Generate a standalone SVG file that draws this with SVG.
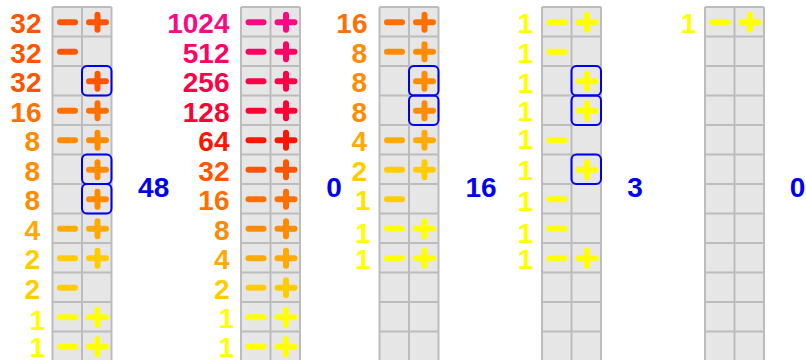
<svg xmlns="http://www.w3.org/2000/svg" xmlns:xlink="http://www.w3.org/1999/xlink" width="806" height="360" viewBox="0 0 806 360">
<style>
text{font-family:"Liberation Sans",Arial,sans-serif;font-weight:bold;font-size:28px}
.n{text-anchor:end}
.s{text-anchor:middle;fill:#0000f0}
.box{fill:none;stroke:#0000f0;stroke-width:2}
.c1024{fill:#fa0a82;color:#fa0a82}
.c512{fill:#ff0064;color:#ff0064}
.c256{fill:#ff0048;color:#ff0048}
.c128{fill:#ff0032;color:#ff0032}
.c64{fill:#ff1400;color:#ff1400}
.c32{fill:#ff5500;color:#ff5500}
.c16{fill:#ff7000;color:#ff7000}
.c8{fill:#ff8c00;color:#ff8c00}
.c4{fill:#ffaa00;color:#ffaa00}
.c2{fill:#ffcc00;color:#ffcc00}
.c1{fill:#ffff00;color:#ffff00}
.c1b{fill:#ffe400;color:#ffe400}
</style>
<defs>
<g id="grid">
<rect x="0" y="7" width="59" height="360" fill="#e6e6e6"/>
<path d="M0,7V367M29.5,7V367M59,7V367M0,7H59M0,36.5H59M0,66H59M0,95.5H59M0,125H59M0,154.5H59M0,184H59M0,213.5H59M0,243H59M0,272.5H59M0,302H59M0,331.5H59" stroke="#bcbcbc" stroke-width="2" fill="none"/>
</g>
<path id="m" d="M-7.5,0H7.5" stroke="currentColor" stroke-width="6" stroke-linecap="round" fill="none"/>
<path id="p" d="M-8.5,0H8.5M0,-7.5V7.5" stroke="currentColor" stroke-width="6" stroke-linecap="round" fill="none"/>
</defs>

<!-- Column 1 -->
<g id="col1">
<use xlink:href="#grid" x="52.5" y="0"/>
<g id="c1r1" class="c32"><text class="n" x="41.5" y="33.3">32</text><use xlink:href="#m" x="67.5" y="22.2"/><use xlink:href="#p" x="97.5" y="22.2"/></g>
<g id="c1r2" class="c32"><text class="n" x="41.5" y="62.8">32</text><use xlink:href="#m" x="67.5" y="51.7"/></g>
<g id="c1r3" class="c32"><text class="n" x="41.5" y="92.3">32</text><use xlink:href="#p" x="97.5" y="81.2"/><rect class="box" x="82" y="66" width="29.5" height="29.5" rx="5"/></g>
<g id="c1r4" class="c16"><text class="n" x="41.5" y="121.8">16</text><use xlink:href="#m" x="67.5" y="110.7"/><use xlink:href="#p" x="97.5" y="110.7"/></g>
<g id="c1r5" class="c8"><text class="n" x="40" y="151.3">8</text><use xlink:href="#m" x="67.5" y="140.2"/><use xlink:href="#p" x="97.5" y="140.2"/></g>
<g id="c1r6" class="c8"><text class="n" x="40" y="180.8">8</text><use xlink:href="#p" x="97.5" y="169.7"/><rect class="box" x="82" y="154.5" width="29.5" height="29.5" rx="5"/></g>
<g id="c1r7" class="c8"><text class="n" x="40" y="210.3">8</text><use xlink:href="#p" x="97.5" y="199.2"/><rect class="box" x="82" y="184" width="29.5" height="29.5" rx="5"/></g>
<g id="c1r8" class="c4"><text class="n" x="40" y="239.8">4</text><use xlink:href="#m" x="67.5" y="228.7"/><use xlink:href="#p" x="97.5" y="228.7"/></g>
<g id="c1r9" class="c2"><text class="n" x="40" y="269.3">2</text><use xlink:href="#m" x="67.5" y="258.2"/><use xlink:href="#p" x="97.5" y="258.2"/></g>
<g id="c1r10" class="c2"><text class="n" x="40" y="298.8">2</text><use xlink:href="#m" x="67.5" y="287.7"/></g>
<g id="c1r11" class="c1"><text class="n" x="45" y="330">1</text><use xlink:href="#m" x="67.5" y="317.2"/><use xlink:href="#p" x="97.5" y="317.2"/></g>
<g id="c1r12" class="c1"><text class="n" x="45" y="356.7">1</text><use xlink:href="#m" x="67.5" y="346.7"/><use xlink:href="#p" x="97.5" y="346.7"/></g>
<text id="sum1" class="s" x="153.7" y="196.5">48</text>
</g>

<!-- Column 2 -->
<g id="col2">
<use xlink:href="#grid" x="241" y="0"/>
<g id="c2r1" class="c1024"><text class="n" x="229.5" y="33.3">1024</text><use xlink:href="#m" x="256" y="22.2"/><use xlink:href="#p" x="286" y="22.2"/></g>
<g id="c2r2" class="c512"><text class="n" x="229.5" y="62.8">512</text><use xlink:href="#m" x="256" y="51.7"/><use xlink:href="#p" x="286" y="51.7"/></g>
<g id="c2r3" class="c256"><text class="n" x="229.5" y="92.3">256</text><use xlink:href="#m" x="256" y="81.2"/><use xlink:href="#p" x="286" y="81.2"/></g>
<g id="c2r4" class="c128"><text class="n" x="229.5" y="121.8">128</text><use xlink:href="#m" x="256" y="110.7"/><use xlink:href="#p" x="286" y="110.7"/></g>
<g id="c2r5" class="c64"><text class="n" x="229.5" y="151.3">64</text><use xlink:href="#m" x="256" y="140.2"/><use xlink:href="#p" x="286" y="140.2"/></g>
<g id="c2r6" class="c32"><text class="n" x="229.5" y="180.8">32</text><use xlink:href="#m" x="256" y="169.7"/><use xlink:href="#p" x="286" y="169.7"/></g>
<g id="c2r7" class="c16"><text class="n" x="229.5" y="210.3">16</text><use xlink:href="#m" x="256" y="199.2"/><use xlink:href="#p" x="286" y="199.2"/></g>
<g id="c2r8" class="c8"><text class="n" x="229.5" y="239.8">8</text><use xlink:href="#m" x="256" y="228.7"/><use xlink:href="#p" x="286" y="228.7"/></g>
<g id="c2r9" class="c4"><text class="n" x="229.5" y="269.3">4</text><use xlink:href="#m" x="256" y="258.2"/><use xlink:href="#p" x="286" y="258.2"/></g>
<g id="c2r10" class="c2"><text class="n" x="229.5" y="298.8">2</text><use xlink:href="#m" x="256" y="287.7"/><use xlink:href="#p" x="286" y="287.7"/></g>
<g id="c2r11" class="c1"><text class="n" x="234" y="328.3">1</text><use xlink:href="#m" x="256" y="317.2"/><use xlink:href="#p" x="286" y="317.2"/></g>
<g id="c2r12" class="c1"><text class="n" x="234" y="356.7">1</text><use xlink:href="#m" x="256" y="346.7"/><use xlink:href="#p" x="286" y="346.7"/></g>
<text id="sum2" class="s" x="334" y="196.5">0</text>
</g>

<!-- Column 3 -->
<g id="col3">
<use xlink:href="#grid" x="379.5" y="0"/>
<g id="c3r1" class="c16"><text class="n" x="367.5" y="33.3">16</text><use xlink:href="#m" x="394.5" y="22.2"/><use xlink:href="#p" x="424.5" y="22.2"/></g>
<g id="c3r2" class="c8"><text class="n" x="367" y="62.8">8</text><use xlink:href="#m" x="394.5" y="51.7"/><use xlink:href="#p" x="424.5" y="51.7"/></g>
<g id="c3r3" class="c8"><text class="n" x="367" y="92.3">8</text><use xlink:href="#p" x="424.5" y="81.2"/><rect class="box" x="409" y="66" width="29.5" height="29.5" rx="5"/></g>
<g id="c3r4" class="c8"><text class="n" x="367" y="121.8">8</text><use xlink:href="#p" x="424.5" y="110.7"/><rect class="box" x="409" y="95.5" width="29.5" height="29.5" rx="5"/></g>
<g id="c3r5" class="c4"><text class="n" x="367" y="151.3">4</text><use xlink:href="#m" x="394.5" y="140.2"/><use xlink:href="#p" x="424.5" y="140.2"/></g>
<g id="c3r6" class="c2"><text class="n" x="367" y="180.8">2</text><use xlink:href="#m" x="394.5" y="169.7"/><use xlink:href="#p" x="424.5" y="169.7"/></g>
<g id="c3r7"><text class="n c1b" x="370.5" y="210">1</text><use class="c2" xlink:href="#m" x="394.5" y="199.2"/></g>
<g id="c3r8" class="c1"><text class="n" x="370.5" y="243.3">1</text><use xlink:href="#m" x="394.5" y="228.7"/><use xlink:href="#p" x="424.5" y="228.7"/></g>
<g id="c3r9" class="c1"><text class="n" x="370.5" y="269.3">1</text><use xlink:href="#m" x="394.5" y="258.2"/><use xlink:href="#p" x="424.5" y="258.2"/></g>
<text id="sum3" class="s" x="481" y="196.5">16</text>
</g>

<!-- Column 4 -->
<g id="col4">
<use xlink:href="#grid" x="542" y="0"/>
<g id="c4r1" class="c1"><text class="n" x="533" y="33.3">1</text><use xlink:href="#m" x="557" y="22.2"/><use xlink:href="#p" x="587" y="22.2"/></g>
<g id="c4r2" class="c1"><text class="n" x="533" y="63.3">1</text><use xlink:href="#m" x="557" y="51.7"/></g>
<g id="c4r3" class="c1"><text class="n" x="533" y="92.7">1</text><use xlink:href="#p" x="587" y="81.2"/><rect class="box" x="571.5" y="66" width="29.5" height="29.5" rx="5"/></g>
<g id="c4r4" class="c1"><text class="n" x="533" y="120.7">1</text><use xlink:href="#p" x="587" y="110.7"/><rect class="box" x="571.5" y="95.5" width="29.5" height="29.5" rx="5"/></g>
<g id="c4r5" class="c1"><text class="n" x="533" y="149.3">1</text><use xlink:href="#m" x="557" y="140.2"/></g>
<g id="c4r6" class="c1"><text class="n" x="533" y="180">1</text><use xlink:href="#p" x="587" y="169.7"/><rect class="box" x="571.5" y="154.5" width="29.5" height="29.5" rx="5"/></g>
<g id="c4r7" class="c1"><text class="n" x="533" y="210.7">1</text><use xlink:href="#m" x="557" y="199.2"/></g>
<g id="c4r8" class="c1"><text class="n" x="533" y="242.7">1</text><use xlink:href="#m" x="557" y="228.7"/></g>
<g id="c4r9" class="c1"><text class="n" x="533" y="269.3">1</text><use xlink:href="#m" x="557" y="258.2"/><use xlink:href="#p" x="587" y="258.2"/></g>
<text id="sum4" class="s" x="635" y="196.5">3</text>
</g>

<!-- Column 5 -->
<g id="col5">
<use xlink:href="#grid" x="705" y="0"/>
<g id="c5r1" class="c1"><text class="n" x="696.3" y="33.3">1</text><use xlink:href="#m" x="720" y="22.2"/><use xlink:href="#p" x="750" y="22.2"/></g>
<text id="sum5" class="s" x="797.5" y="196.5">0</text>
</g>
</svg>
